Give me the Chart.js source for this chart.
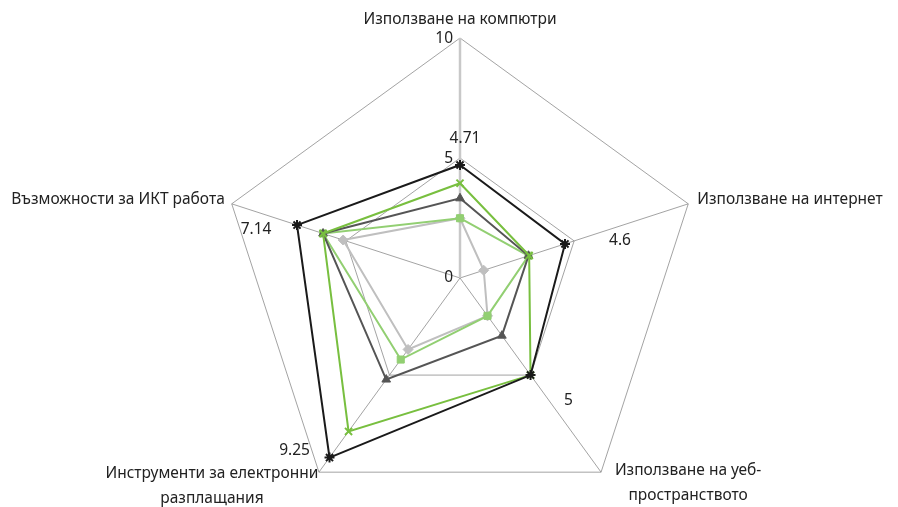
<!DOCTYPE html>
<html lang="bg">
<head>
<meta charset="utf-8">
<script src="https://cdn.jsdelivr.net/npm/chart.js@4/dist/chart.umd.min.js"></script>
<style>
html,body{margin:0;padding:0;background:#fff;}
#wrap{width:898px;height:507px;position:relative;}
</style>
</head>
<body>
<div id="wrap"><canvas id="c" lang="bg" width="898" height="507"></canvas></div>
<script>
const categories = [
  ['Използване на компютри'],
  ['Използване на интернет'],
  ['Използване на уеб-', 'пространството'],
  ['Инструменти за електронни', 'разплащания'],
  ['Възможности за ИКТ работа']
];
const tickValues = [0, 5, 10];
const seriesBlack = [4.71, 4.6, 5, 9.25, 7.14];
const seriesGreenX = [3.95, 3.03, 5, 7.9, 6.0];
const seriesDarkTri = [3.32, 3.0, 2.97, 5.23, 6.0];
const seriesGreenSq = [2.49, 3.0, 1.95, 4.2, 6.0];
const seriesGreyDia = [2.49, 1.04, 1.95, 3.68, 5.12];
const blackLabels = ['4.71', '4.6', '5', '9.25', '7.14'];

// label placement (pixel offsets from the data point / axis end)
const dataLabelOffsets = [[5, -26], [55, -3], [38, 25], [-35, -7], [-41, 5]];
const catLabelPlace = [
  {dx: 0, dy: -18, align: 'center'},
  {dx: 9, dy: -4, align: 'left'},
  {dx: 87, dy: -2, align: 'center'},
  {dx: -107, dy: 1, align: 'center'},
  {dx: -7, dy: -4, align: 'right'}
];
const FONT = '15.5px "Noto Sans", "Open Sans", sans-serif';
const TEXT = '#222222';

const labelPlugin = {
  id: 'customLabels',
  afterDatasetsDraw(chart) {
    const ctx = chart.ctx;
    const s = chart.scales.r;
    ctx.save();
    ctx.font = FONT;
    ctx.fillStyle = TEXT;
    ctx.textBaseline = 'middle';
    // tick labels
    ctx.textAlign = 'right';
    tickValues.forEach(v => {
      const d = s.getDistanceFromCenterForValue(v);
      ctx.fillText(String(v), s.xCenter - 7, s.yCenter - d + (v === 0 ? 0 : 1));
    });
    // category labels
    categories.forEach((lines, i) => {
      const p = s.getPointPosition(i, s.drawingArea);
      const pl = catLabelPlace[i];
      ctx.textAlign = pl.align;
      lines.forEach((ln, k) => {
        ctx.fillText(ln, p.x + pl.dx, p.y + pl.dy + k * 25);
      });
    });
    // data labels for black series
    ctx.textAlign = 'center';
    const meta = chart.getDatasetMeta(0);
    meta.data.forEach((pt, i) => {
      const o = dataLabelOffsets[i];
      ctx.fillText(blackLabels[i], pt.x + o[0], pt.y + o[1]);
    });
    ctx.restore();
  }
};

function ds(data, color, style, radius, lw) {
  return {
    data: data,
    borderColor: color,
    backgroundColor: color,
    pointBackgroundColor: color,
    pointBorderColor: color,
    pointStyle: style,
    pointRadius: radius,
    pointBorderWidth: lw,
    borderWidth: 2,
    fill: false,
    tension: 0
  };
}

new Chart(document.getElementById('c'), {
  type: 'radar',
  data: {
    labels: categories.map(c => c.join(' ')),
    datasets: [
      ds(seriesBlack, '#1a1a1a', 'star', 5, 2),
      ds(seriesGreenX, '#78bf3f', 'crossRot', 5, 2),
      ds(seriesDarkTri, '#555555', 'triangle', 5, 1),
      ds(seriesGreenSq, '#92cf72', 'rect', 5, 1),
      ds(seriesGreyDia, '#bfbfbf', 'rectRot', 5, 1)
    ]
  },
  options: {
    responsive: false,
    animation: false,
    events: [],
    layout: {padding: 0},
    plugins: {legend: {display: false}, tooltip: {enabled: false}},
    scales: {
      r: {
        min: 0,
        max: 10,
        ticks: {display: false, stepSize: 5},
        pointLabels: {display: false},
        grid: {circular: false, color: '#8c8c8c', lineWidth: 0.8},
        angleLines: {
          color: (c) => c.index === 0 ? '#c8c8c8' : '#8c8c8c',
          lineWidth: (c) => c.index === 0 ? 2.5 : 0.8
        },
        afterFit(scale) {
          scale.xCenter = 460;
          scale.yCenter = 278;
          scale.drawingArea = 240;
        }
      }
    }
  },
  plugins: [labelPlugin]
});
</script>
</body>
</html>
